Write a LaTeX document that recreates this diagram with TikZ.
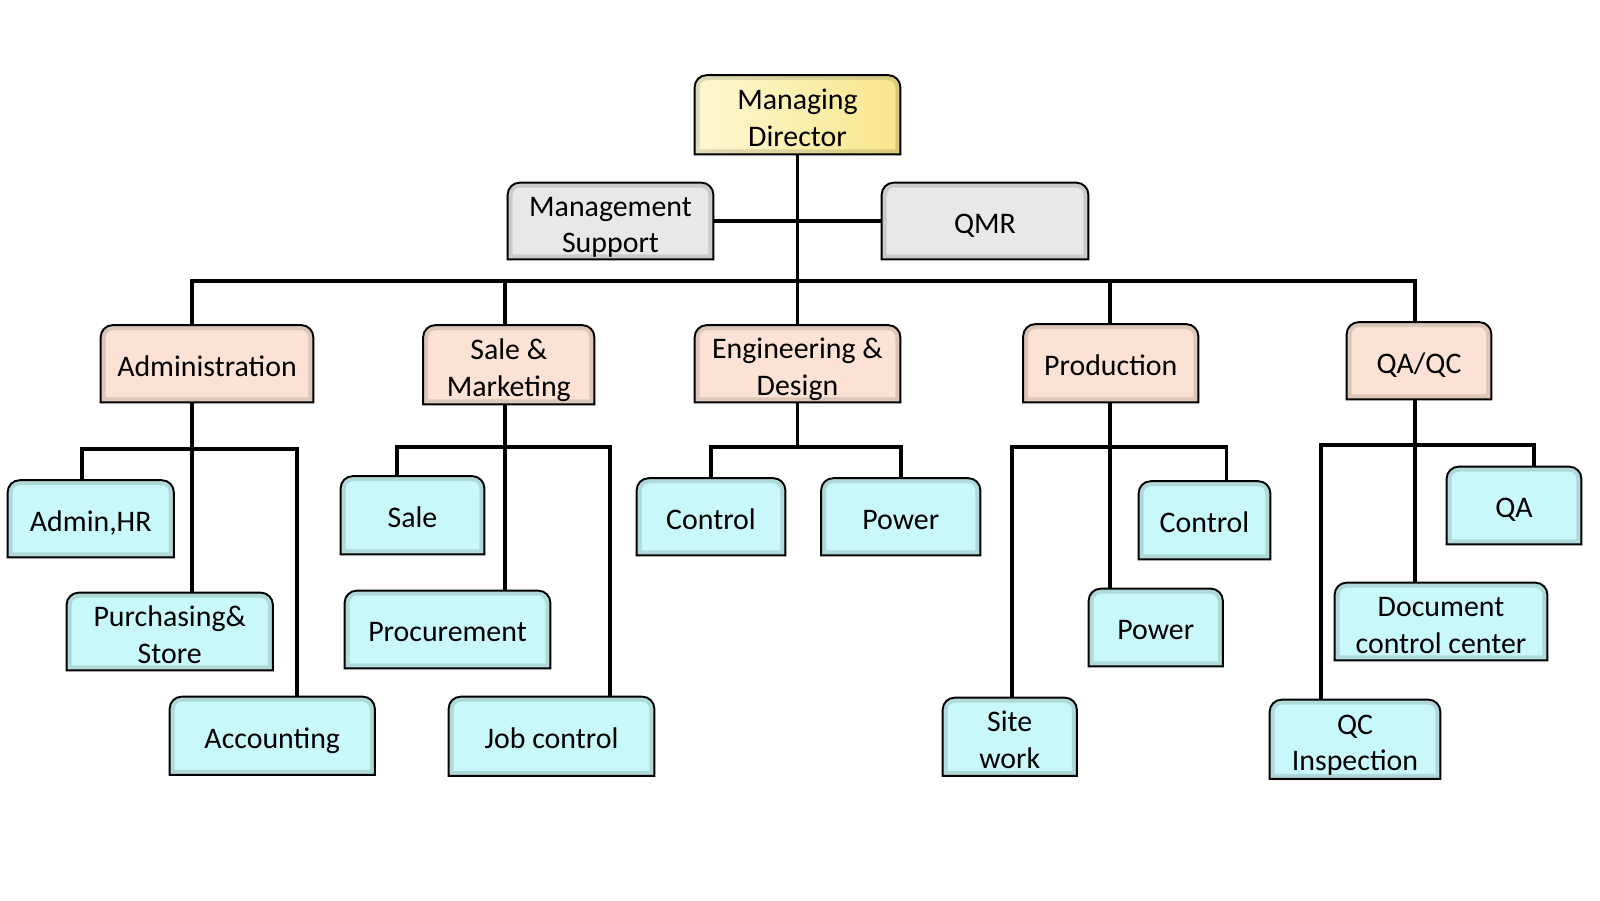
\documentclass[tikz,border=0pt]{standalone}
\usepackage{fontspec}
\setmainfont{Carlito}
\usetikzlibrary{backgrounds, calc}

\definecolor{mdleft}{HTML}{FDF7D2}
\definecolor{mdright}{HTML}{F8E68C}
\definecolor{grayfill}{HTML}{E8E8E8}
\definecolor{peachfill}{HTML}{FBE2D4}
\definecolor{cyanfill}{HTML}{C9F8FA}

\tikzset{
  box/.style 2 args={minimum width=#1*0.02cm, minimum height=#2*0.02cm,
    inner sep=0pt, font=\fontsize{17}{20.8}\selectfont,
    execute at begin node={\rule{0pt}{18pt}},
    execute at end node={\rule[-4pt]{0pt}{0pt}}},
  link/.style={line width=2.2pt},
  boxline/.style={line width=1.1pt, draw=black}
}

% two centred lines, sitting like one line
\newcommand{\twolines}[2]{\raisebox{9.8pt}[18pt][4pt]{%
  \begin{tabular}[t]{@{}c@{}}#1\\#2\end{tabular}}}

% outline with rounded top corners round node #1
\newcommand{\tabpath}[1]{(#1.south west) -- ($(#1.north west)+(0,12)$)
    arc[start angle=180, end angle=90, radius=0.24cm]
    -- ($(#1.north east)+(-12,0)$)
    arc[start angle=90, end angle=0, radius=0.24cm]
    -- (#1.south east) -- cycle}
\newcommand{\tabbox}[2]{%
  \fill[#2] \tabpath{#1};
  \begin{scope}
    \clip \tabpath{#1};
    \draw[black, opacity=0.12, line width=0.2cm] \tabpath{#1};
  \end{scope}
  \draw[boxline] \tabpath{#1};}

\begin{document}
\begin{tikzpicture}[x=0.02cm, y=-0.02cm]

\useasboundingbox (0,0) rectangle (1600,900);

% top
\node[box={205}{78.5}] (md) at (797.5,114.75) {\twolines{Managing}{Director}};
\node[box={205}{76}] (ms) at (610.5,221) {\twolines{Management}{Support}};
\node[box={206}{76}] (qmr) at (985,221) {QMR};

% departments
\node[box={212}{76.5}] (adm) at (207,363.75) {Administration};
\node[box={170.5}{78.5}] (sam) at (508.75,364.75) {\twolines{Sale \&}{Marketing}};
\node[box={205}{76.5}] (eng) at (797.5,363.75) {\twolines{Engineering \&}{Design}};
\node[box={174.5}{77.5}] (prod) at (1110.75,363.25) {Production};
\node[box={144}{76.5}] (qa) at (1419,360.75) {QA/QC};

% sections
\node[box={165.5}{76.5}] (ahr) at (90.75,518.8) {Admin,HR};
\node[box={205.5}{77}] (pur) at (169.75,631.5) {\twolines{Purchasing\&}{Store}};
\node[box={204.5}{77.5}] (acc) at (272.25,735.75) {Accounting};

\node[box={143}{77.5}] (sale) at (412.5,515.25) {Sale};
\node[box={205}{77}] (proc) at (447.5,629.5) {Procurement};
\node[box={205}{78.5}] (job) at (551.5,736.25) {Job control};

\node[box={148}{76.5}] (ectl) at (711,516.8) {Control};
\node[box={158.5}{76.5}] (epow) at (900.75,516.8) {Power};

\node[box={131}{77.5}] (pctl) at (1204.5,520.3) {Control};
\node[box={133.5}{77}] (ppow) at (1155.75,627.5) {Power};
\node[box={133.5}{77.5}] (site) at (1009.75,736.75) {\twolines{Site}{work}};

\node[box={134}{77}] (qaq) at (1514,505.5) {QA};
\node[box={212}{77}] (doc) at (1441,621.5) {\twolines{Document}{control center}};
\node[box={170}{78.6}] (qci) at (1355,739.3) {\twolines{QC}{Inspection}};

\begin{scope}[on background layer]
\tabbox{md}{left color=mdleft, right color=mdright}
\foreach \n in {ms, qmr}
  {\tabbox{\n}{fill=grayfill}}
\foreach \n in {adm, sam, eng, prod, qa}
  {\tabbox{\n}{fill=peachfill}}
\foreach \n in {ahr, pur, acc, sale, proc, job, ectl, epow, pctl, ppow, site, qaq, doc, qci}
  {\tabbox{\n}{fill=cyanfill}}
\end{scope}

\coordinate (bar) at (797,281);
\coordinate (admx) at (192,449);
\coordinate (samx) at (505,447);
\coordinate (engx) at (797.5,447);
\coordinate (prodx) at (1110,447);
\coordinate (qax) at (1415,445);

% top links
\draw[link] (md.south) -- (eng.north);
\draw[link] (ms.east) -- (qmr.west);
\draw[link] (adm.north -| admx) |- (bar) -| (qa.north -| qax);
\draw[link] (bar -| samx) -- (sam.north -| samx);
\draw[link] (bar -| prodx) -- (prod.north -| prodx);

% administration
\draw[link] (adm.south -| admx) -- (pur.north -| admx);
\draw[link] ($(ahr.north)+(-9,0)$) |- (admx) -| ($(acc.north)+(25,0)$);

% sale & marketing
\draw[link] (sam.south -| samx) -- (proc.north -| samx);
\draw[link] ($(sale.north)+(-15.5,0)$) |- (samx) -| ($(job.north)+(58.5,0)$);

% engineering
\draw[link] (eng.south) -- (engx);
\draw[link] (ectl.north) |- (engx) -| (epow.north);

% production
\draw[link] (prod.south -| prodx) -- (ppow.north -| prodx);
\draw[link] ($(site.north)+(2,0)$) |- (prodx) -| ($(pctl.north)+(22,0)$);

% qa/qc
\draw[link] (qa.south -| qax) -- (doc.north -| qax);
\draw[link] ($(qci.north)+(-34,0)$) |- (qax) -| ($(qaq.north)+(20,0)$);

\end{tikzpicture}
\end{document}
